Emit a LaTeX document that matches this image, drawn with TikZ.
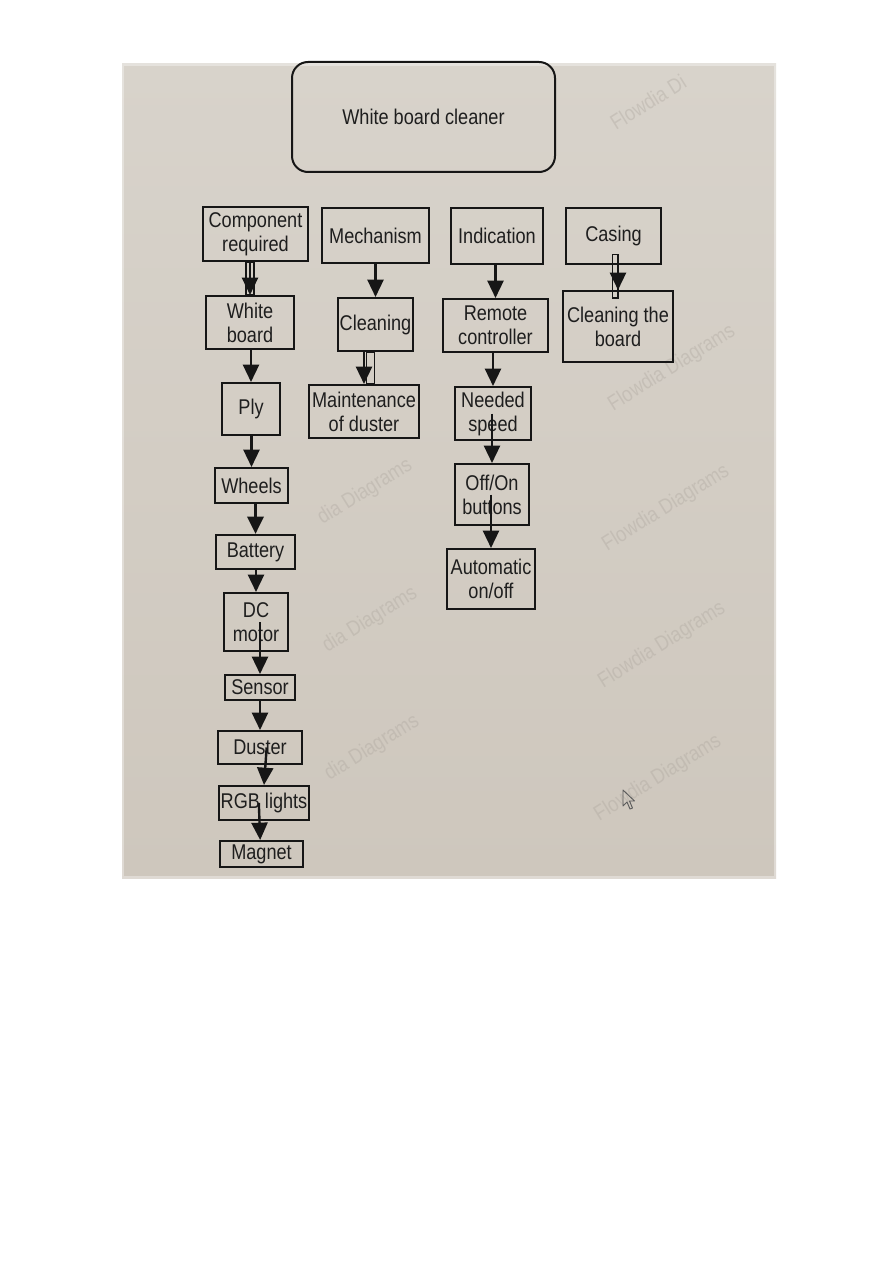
\documentclass[tikz,border=0pt]{standalone}
\usepackage{fontspec}
\setmainfont{Liberation Sans}[FakeStretch=0.85]
\usetikzlibrary{arrows.meta,calc}
\definecolor{ink}{RGB}{22,22,22}
\definecolor{txt}{RGB}{30,30,30}
\definecolor{phototop}{RGB}{216,211,203}
\definecolor{photomid}{RGB}{231,227,221}
\definecolor{photobot}{RGB}{206,199,189}
\definecolor{wm}{RGB}{170,163,155}
\begin{document}
\begin{tikzpicture}[x=0.75pt,y=-0.75pt,
  rect/.style n args={4}{minimum width={(#3-#1)*0.75pt}, minimum height={(#4-#2)*0.75pt}, at={({(#1+#3)/2},{(#2+#4)/2})}},
  box/.style={draw=ink, line width=1.5pt, inner sep=0pt, align=center, text=txt, font=\fontsize{16}{18}\selectfont},
  arr/.style={draw=ink, line width=1.8pt, -{Triangle[width=12pt,length=13pt]}},
  ghost/.style={draw=ink, line width=0.8pt},
  wmark/.style={text=wm, opacity=0.35, rotate=32, font=\fontsize{16}{16}\selectfont}
]
\useasboundingbox[fill=white] (0,0) rectangle (892,1262);
% photo of the screen
\shade[top color=phototop, middle color=photomid, bottom color=photobot] (122,64) rectangle (776,878);
\draw[white, line width=3pt, opacity=0.35] (122,64) rectangle (776,878);

% watermarks
\node[wmark] (w1) at (648,102) {Flowdia Di};
\node[wmark] (w3) at (672,368) {Flowdia Diagrams};
\node[wmark] (w4) at (666,508) {Flowdia Diagrams};
\node[wmark] (w5) at (662,645) {Flowdia Diagrams};
\node[wmark] (w6) at (658,778) {Flowdia Diagrams};
\node[wmark] (w8) at (370,620) {dia Diagrams};
\node[wmark] (w9) at (372,748) {dia Diagrams};
\node[wmark] (w7) at (365,492) {dia Diagrams};

% cursor
\draw[ink!70, line width=0.7pt, line join=round] (623,790) -- (623,806) -- (627,802) -- (630,809) -- (632.5,808) -- (629.5,801) -- (634.5,801) -- cycle;

% title
\node[box, rounded corners=12pt, rect={292}{62}{555}{172}] (t) {White board cleaner};

% row 1
\node[box, rect={203}{207}{308}{261}] (cr) {Component\\required};
\node[box, rect={322}{208}{429}{263}] (me) {Mechanism};
\node[box, rect={451}{208}{543}{264}] (in) {Indication};
\node[box, rect={566}{208}{661}{264}] (ca) {Casing};

% column 1
\node[box, rect={206}{296}{294}{349}] (wb) {White\\board};
\node[box, rect={222}{383}{280}{435}] (pl) {Ply};
\node[box, rect={215}{468}{288}{503}] (wh) {Wheels};
\node[box, rect={216}{535}{295}{569}] (ba) {Battery};
\node[box, rect={224}{593}{288}{651}] (dc) {DC\\motor};
\node[box, rect={225}{675}{295}{700}] (se) {Sensor};
\node[box, rect={218}{731}{302}{764}] (du) {Duster};
\node[box, rect={219}{786}{309}{820}] (rg) {RGB lights};
\node[box, rect={220}{841}{303}{867}] (ma) {Magnet};

% column 2
\node[box, rect={338}{298}{413}{351}] (cl) {Cleaning};
\node[box, rect={309}{385}{419}{438}] (md) {Maintenance\\of duster};

% column 3
\node[box, rect={443}{299}{548}{352}] (rc) {Remote\\controller};
\node[box, rect={455}{387}{531}{440}] (ns) {Needed\\speed};
\node[box, rect={455}{464}{529}{525}] (oo) {Off/On\\buttons};
\node[box, rect={447}{549}{535}{609}] (au) {Automatic\\on/off};

% column 4
\node[box, rect={563}{291}{673}{362}] (cb) {Cleaning the\\board};

% ghost double lines
\draw[ghost] ([xshift=-3pt]cr.south -| wb.north) rectangle ([xshift=3pt]wb.north);
\draw[ghost] ([xshift=2pt]cl.south -| md.north) rectangle ([xshift=8pt]md.north);
\draw[ghost] ([xshift=-4pt,yshift=8pt]ca.south -| cb.north) rectangle ([xshift=0pt,yshift=-6pt]cb.north);

% connectors
\draw[arr] (cr.south -| wb.north) -- (wb.north);
\draw[arr] (wb.south -| pl.north) -- (pl.north);
\draw[arr] (pl.south -| wh.north) -- (wh.north);
\draw[arr, line width=2.6pt] (wh.south -| ba.north) -- (ba.north);
\draw[arr] (ba.center |- ba.south) -- (ba.south -| dc.north) -- (dc.north);
\draw[arr] (dc.center -| se.north) -- (se.north);
\draw[arr] (se.south -| du.north) -- (du.north);
\draw[arr] ([xshift=2pt]du.center -| rg.north) -- ([xshift=0pt]rg.north);
\draw[arr] ([xshift=-2pt]rg.center -| ma.north) -- ([xshift=-1pt]ma.north);
\draw[arr] (me.south -| cl.north) -- (cl.north);
\draw[arr] (cl.south -| md.north) -- (md.north);
\draw[arr] (in.south -| rc.north) -- (rc.north);
\draw[arr] (rc.south -| ns.north) -- (ns.north);
\draw[arr] (ns.center -| oo.north) -- (oo.north);
\draw[arr] (oo.center -| au.north) -- (au.north);
\draw[arr] (ca.south -| cb.north) -- (cb.north);
\end{tikzpicture}
\end{document}
